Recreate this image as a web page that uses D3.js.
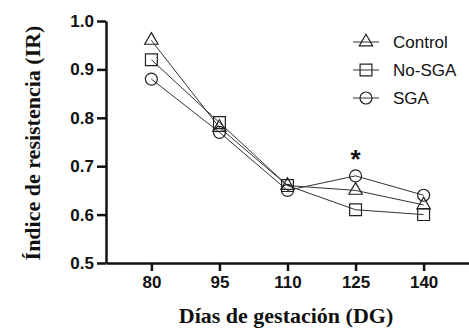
<!DOCTYPE html>
<html>
<head>
<meta charset="utf-8">
<script src="https://cdn.jsdelivr.net/npm/d3@7"></script>
<style>
  body { margin: 0; background: #fff; }
  svg { display: block; }
</style>
</head>
<body>
<script>
// values
var days = [80, 95, 110, 125, 140];
var control = [0.96, 0.78, 0.66, 0.65, 0.62];
var noSGA = [0.92, 0.79, 0.66, 0.61, 0.60];
var sga = [0.88, 0.77, 0.65, 0.68, 0.64];
var seriesNames = ["Control", "No-SGA", "SGA"];
var yTicks = [0.5, 0.6, 0.7, 0.8, 0.9, 1.0];
var starDay = 125; // significance mark above SGA

var width = 469;
var height = 328;

var svg = d3.select("body")
            .append("svg")
            .attr("width", width)
            .attr("height", height);

var x = d3.scaleLinear().domain([70, 150]).range([106, 469]);
var y = d3.scaleLinear().domain([0.5, 1.0]).range([263, 21]);

var series = [control, noSGA, sga];
var symbols = [d3.symbolTriangle, d3.symbolSquare, d3.symbolCircle];
var symSizes = [78, 140, 113];

// axes
var yAxis = svg.append("g")
    .attr("transform", "translate(106,0)")
    .call(d3.axisLeft(y).tickValues(yTicks).tickFormat(d3.format(".1f"))
            .tickSize(9).tickSizeOuter(0).tickPadding(3));

var xAxis = svg.append("g")
    .attr("transform", "translate(0,263)")
    .call(d3.axisBottom(x).tickValues(days).tickSize(8).tickSizeOuter(0).tickPadding(5));

svg.selectAll(".domain, .tick line")
    .attr("stroke", "#111")
    .attr("stroke-width", 2.5);

svg.selectAll(".tick text")
    .attr("fill", "#111")
    .style("font-family", "'Liberation Sans', Arial, sans-serif")
    .style("font-size", "17px")
    .style("font-weight", "bold");

// lines
var line = d3.line()
    .x(function(d, i) { return x(days[i]); })
    .y(function(d) { return y(d); });

series.forEach(function(s, k) {
  svg.append("path")
      .datum(s)
      .attr("d", line)
      .attr("fill", "none")
      .attr("stroke", "#333")
      .attr("stroke-width", 1);

  svg.selectAll("path.m" + k)
      .data(s)
      .enter()
      .append("path")
      .attr("class", "m" + k)
      .attr("d", d3.symbol().type(symbols[k]).size(symSizes[k]))
      .attr("transform", function(d, i) {
        return "translate(" + x(days[i]) + "," + y(d) + ")";
      })
      .attr("fill", "none")
      .attr("stroke", "#222")
      .attr("stroke-width", 1.2);
});

// asterisk
svg.append("text")
    .text("*")
    .attr("x", x(starDay))
    .attr("y", y(sga[days.indexOf(starDay)]) - 8)
    .attr("text-anchor", "middle")
    .attr("fill", "#111")
    .style("font-family", "'Liberation Sans', Arial, sans-serif")
    .style("font-size", "26px")
    .style("font-weight", "bold");

// legend
var legend = svg.append("g");
seriesNames.forEach(function(name, k) {
  var ly = 42 + k * 28;
  legend.append("line")
      .attr("x1", 353).attr("x2", 379)
      .attr("y1", ly).attr("y2", ly)
      .attr("stroke", "#333")
      .attr("stroke-width", 1);
  legend.append("path")
      .attr("d", d3.symbol().type(symbols[k]).size(symSizes[k]))
      .attr("transform", "translate(366," + ly + ")")
      .attr("fill", "none")
      .attr("stroke", "#222")
      .attr("stroke-width", 1.2);
  legend.append("text")
      .text(name)
      .attr("x", 393)
      .attr("y", ly + 6)
      .attr("fill", "#111")
      .style("font-family", "'Liberation Sans', Arial, sans-serif")
      .style("font-size", "17px");
});

// axis titles
svg.append("text")
    .text("Días de gestación (DG)")
    .attr("x", 286)
    .attr("y", 323)
    .attr("text-anchor", "middle")
    .attr("fill", "#111")
    .style("font-family", "'Liberation Serif', 'Times New Roman', serif")
    .style("font-size", "22px")
    .style("font-weight", "bold");

svg.append("text")
    .text("Índice de resistencia (IR)")
    .attr("transform", "translate(40,143) rotate(-90)")
    .attr("text-anchor", "middle")
    .attr("fill", "#111")
    .style("font-family", "'Liberation Serif', 'Times New Roman', serif")
    .style("font-size", "22px")
    .style("font-weight", "bold");
</script>
</body>
</html>
